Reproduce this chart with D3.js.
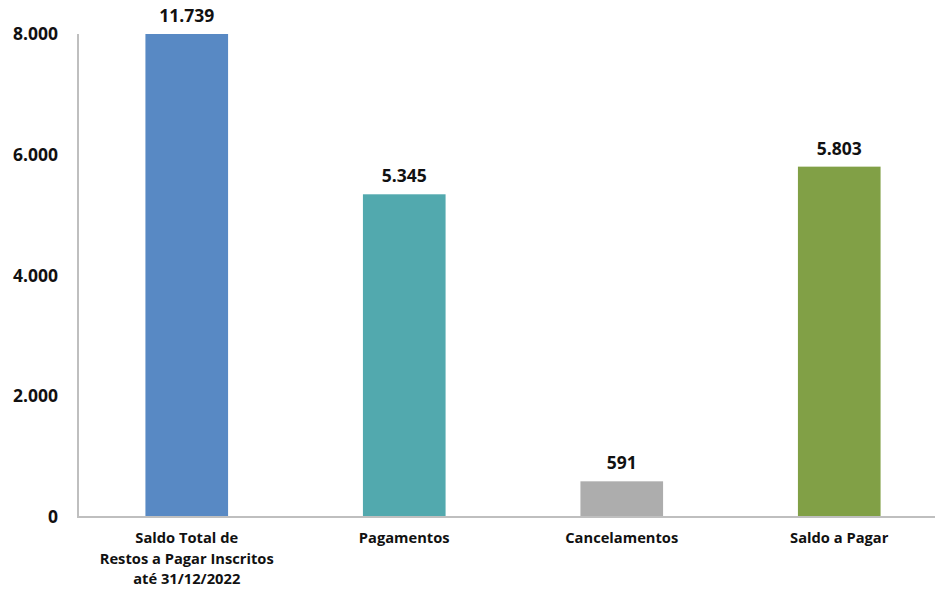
<!DOCTYPE html>
<html>
<head>
<meta charset="utf-8">
<script src="https://cdn.jsdelivr.net/npm/d3@7"></script>
<style>
  body { margin: 0; background: #fff; }
  text { font-family: "Open Sans", "Noto Sans", sans-serif; font-weight: bold; fill: #111; }
</style>
</head>
<body>
<svg id="chart"></svg>
<script>
const categories = [
  ["Saldo Total de", "Restos a Pagar Inscritos", "até 31/12/2022"],
  ["Pagamentos"],
  ["Cancelamentos"],
  ["Saldo a Pagar"]
];
const values = [11739, 5345, 591, 5803];
const valueLabels = ["11.739", "5.345", "591", "5.803"];
const barColors = ["#5889C4", "#52A9AE", "#ADADAD", "#81A046"];
const yTicks = [0, 2000, 4000, 6000, 8000];
const yTickLabels = ["0", "2.000", "4.000", "6.000", "8.000"];

const width = 935, height = 589;
const plotLeft = 78, plotTop = 34, plotBottom = 517;

const svg = d3.select('#chart').attr('width', width).attr('height', height);

const x = d3.scaleBand()
  .domain(d3.range(values.length))
  .range([plotLeft, 948])
  .paddingInner(0.62)
  .paddingOuter(0.31);

const y = d3.scaleLinear()
  .domain([0, 8000])
  .range([plotBottom, plotTop])
  .clamp(true);

// vertical axis line
svg.append("line")
  .attr("x1", plotLeft).attr("x2", plotLeft)
  .attr("y1", plotTop).attr("y2", plotBottom)
  .attr("stroke", "#BFBFBF").attr("stroke-width", 2);

svg.selectAll(".tick-label")
  .data(yTicks)
  .enter()
  .append("text")
  .attr("class", "tick-label")
  .attr("x", 58)
  .attr("y", d => y(d))
  .attr("dy", "0.35em")
  .attr("text-anchor", "end")
  .style("font-size", "17.5px")
  .text((d, i) => yTickLabels[i]);

svg.selectAll(".bar")
  .data(values)
  .enter()
  .append("rect")
  .attr("class", "bar")
  .attr("x", (d, i) => x(i))
  .attr("width", x.bandwidth())
  .attr("y", d => y(d))
  .attr("height", d => plotBottom - y(d))
  .attr("fill", (d, i) => barColors[i]);

svg.append("line")
  .attr("x1", plotLeft - 1).attr("x2", width)
  .attr("y1", plotBottom).attr("y2", plotBottom)
  .attr("stroke", "#BFBFBF").attr("stroke-width", 2);

svg.selectAll(".value-label")
  .data(values)
  .enter()
  .append("text")
  .attr("class", "value-label")
  .attr("x", (d, i) => x(i) + x.bandwidth() / 2)
  .attr("y", d => y(d) - 12)
  .attr("text-anchor", "middle")
  .style("font-size", "17.5px")
  .text((d, i) => valueLabels[i]);

const catLabels = svg.selectAll(".cat-label")
  .data(categories)
  .enter()
  .append("text")
  .attr("class", "cat-label")
  .attr("text-anchor", "middle")
  .style("font-size", "14.7px");

catLabels.selectAll("tspan")
  .data((d, i) => d.map(line => ({ line, i })))
  .enter()
  .append("tspan")
  .attr("x", d => x(d.i) + x.bandwidth() / 2)
  .attr("y", (d, j) => 543 + j * 20.5)
  .text(d => d.line);
</script>
</body>
</html>
